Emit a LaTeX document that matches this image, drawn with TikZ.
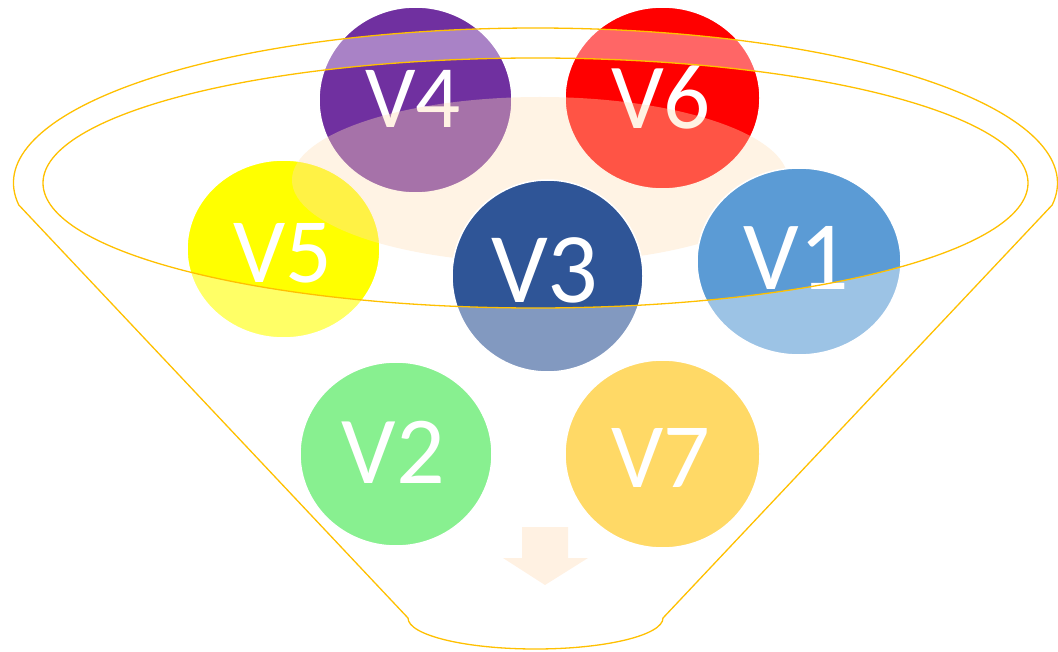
\documentclass[tikz,border=0pt]{standalone}
\usepackage{fontspec}
\setmainfont{Carlito}
\usetikzlibrary{shapes.geometric}
\definecolor{cPurple}{HTML}{7030A0}
\definecolor{cRed}{HTML}{FF0000}
\definecolor{cYellow}{HTML}{FFFF00}
\definecolor{cNavy}{HTML}{2F5597}
\definecolor{cSky}{HTML}{5B9BD5}
\definecolor{cGreen}{HTML}{39E646}
\definecolor{cGold}{HTML}{FFC000}
\definecolor{cPeach}{HTML}{FFDFB8}
\definecolor{cArrow}{HTML}{FFF1E2}
\definecolor{cRim}{HTML}{FFC000}
\newcommand\labfs[1]{\fontsize{#1}{#1}\selectfont}
\tikzset{
  ball/.style={ellipse, draw=white, line width=1.5pt, inner sep=0pt},
  lbl/.style={text=white, anchor=base, inner sep=0pt},
  rimline/.style={draw=cRim, line width=1.3pt},
}
\begin{document}
\begin{tikzpicture}[x=1pt,y=-1pt]
\useasboundingbox (0,0) rectangle (1058,652);

% back circles
\node[ball, fill=cYellow, minimum width=193pt, minimum height=178pt] (c5) at (283.5,249) {};
\node[lbl, font=\labfs{92}] (t5) at (283,283) {V5};
\node[ball, fill=cPurple, minimum width=193pt, minimum height=186pt] (c4) at (415.5,100) {};
\node[lbl, font=\labfs{89}] (t4) at (413,128) {V4};
\node[ball, fill=cRed, minimum width=195pt, minimum height=182pt] (c6) at (662.5,98) {};
\node[lbl, font=\labfs{93}] (t6) at (661,129) {V6};

% peach glow
\path[fill=cPeach, fill opacity=0.38] (540,180) ellipse[x radius=248, y radius=83];

% front circles
\node[ball, fill=cNavy, minimum width=191pt, minimum height=192pt] (c3) at (547.5,276) {};
\node[lbl, font=\labfs{100}] (t3) at (545,303) {V3};
\node[ball, fill=cSky, minimum width=204pt, minimum height=187pt] (c1) at (799,261.5) {};
\node[lbl, font=\labfs{98}] (t1) at (796.5,290) {V1};
\node[ball, fill=cGreen, minimum width=192pt, minimum height=184pt] (c2) at (396,454) {};
\node[lbl, font=\labfs{96}] (t2) at (393.5,483) {V2};
\node[ball, fill=cGold, minimum width=195pt, minimum height=188pt] (c7) at (662.5,454) {};
\node[lbl, font=\labfs{92}] (t7) at (661,487) {V7};

% funnel translucent body (minus the mouth)
\path[fill=white, fill opacity=0.4, even odd rule]
  ([shift={(535.5,183)}]171.84:522 and 155)
    arc[start angle=171.84, end angle=368.16, x radius=522, y radius=155]
    -- (663,618)
    arc[start angle=0, end angle=180, x radius=127.5, y radius=31]
    -- cycle
  (535.5,183) ellipse[x radius=492.5, y radius=125];

% funnel outline
\path[rimline]
  ([shift={(535.5,183)}]171.84:522 and 155)
    arc[start angle=171.84, end angle=368.16, x radius=522, y radius=155]
    -- (663,618)
    arc[start angle=0, end angle=180, x radius=127.5, y radius=31]
    -- cycle;
\path[rimline] (535.5,183) ellipse[x radius=492.5, y radius=125];

% down arrow
\path[fill=cArrow] (522,527) -- (568,527) -- (568,558) -- (588,558)
  -- (545,585) -- (503,558) -- (522,558) -- cycle;
\end{tikzpicture}
\end{document}
